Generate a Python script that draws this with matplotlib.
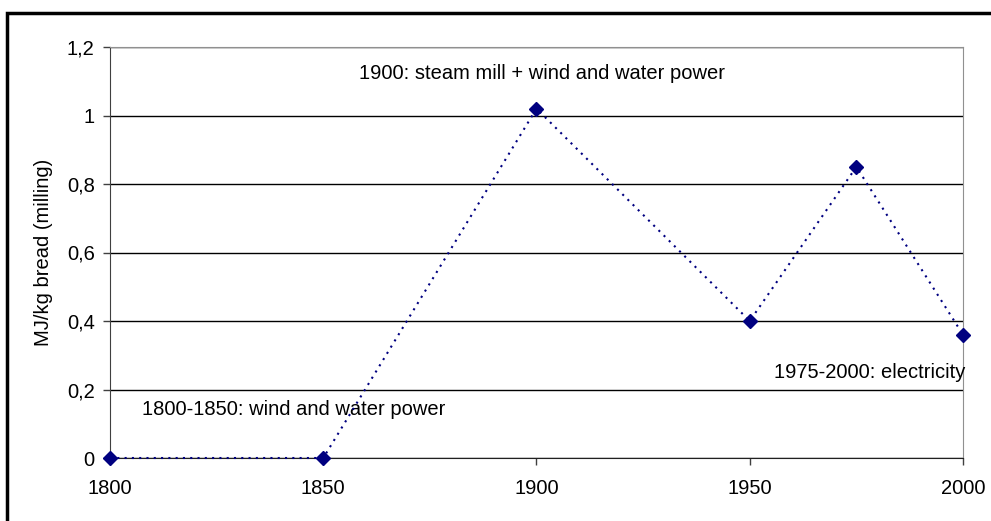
import matplotlib.pyplot as plt
from matplotlib.patches import Rectangle
from matplotlib.ticker import FuncFormatter

years = [1800, 1850, 1900, 1950, 1975, 2000]
energy = [0.0, 0.0, 1.02, 0.40, 0.85, 0.36]
x_ticks = [1800, 1850, 1900, 1950, 2000]
y_ticks = [0, 0.2, 0.4, 0.6, 0.8, 1.0, 1.2]

plt.rcParams['font.family'] = ['Liberation Sans', 'DejaVu Sans']

fig = plt.figure(figsize=(9.91, 5.21), dpi=100)
ax = fig.add_axes([110/991, 1-458/521, 853/991, 411/521])

# outer chart frame
fig.patches.append(Rectangle((7/991, -0.1), 1.2, 1-13/521+0.1, transform=fig.transFigure,
                             fill=False, edgecolor='black', linewidth=2.5))

ax.set_axisbelow(True)
ax.yaxis.grid(True, color='black', linewidth=1)
ax.plot(years, energy, linestyle=(0, (1, 2.5)), color='#000080', linewidth=1.5,
        marker='D', markersize=7, clip_on=False, zorder=5)

ax.set_xlim(1800, 2000)
ax.set_ylim(0, 1.2)
ax.set_xticks(x_ticks)
ax.set_yticks(y_ticks)
ax.yaxis.set_major_formatter(FuncFormatter(lambda v, p: ('%g' % round(v, 1)).replace('.', ',')))

for s in ['top', 'right']:
    ax.spines[s].set_color('#909090')
ax.spines['left'].set_color('#404040')
ax.spines['bottom'].set_color('#202020')
ax.tick_params(axis='both', labelsize=14.5, color='#404040', length=5, width=1)
ax.tick_params(axis='x', pad=10)
ax.tick_params(axis='y', pad=6)

ax.set_ylabel('MJ/kg bread (milling)', fontsize=14.5, labelpad=10)

ax.text(1901.2, 1.124, '1900: steam mill + wind and water power', fontsize=14.5,
        ha='center', va='center')
ax.text(2000.5, 0.251, '1975-2000: electricity', fontsize=14.5, ha='right', va='center', zorder=6)
ax.text(1807.5, 0.143, '1800-1850: wind and water power', fontsize=14.5, ha='left', va='center')

fig.savefig('out.png', dpi=100)
